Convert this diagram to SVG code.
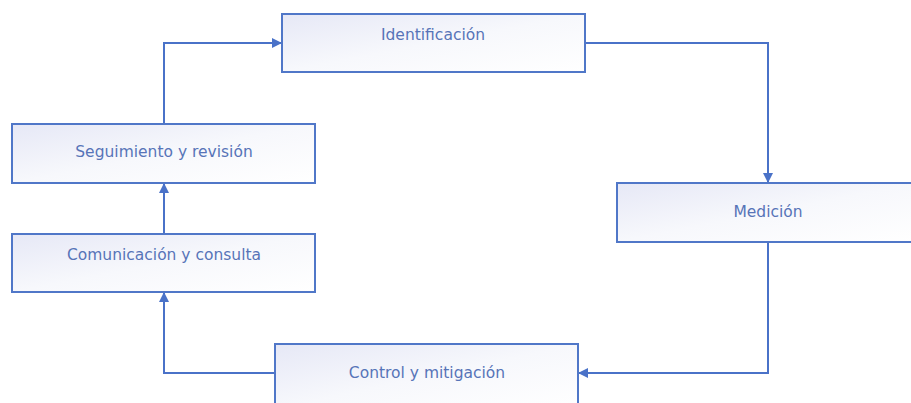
<svg xmlns="http://www.w3.org/2000/svg" width="911" height="403" viewBox="0 0 911 403">
<defs>
<linearGradient id="g" x1="0" y1="0" x2="1" y2="1">
<stop offset="0" stop-color="#e6e8f6"/>
<stop offset="0.5" stop-color="#f7f8fc"/>
<stop offset="1" stop-color="#ffffff"/>
</linearGradient>
<marker id="a" viewBox="0 0 10 10" refX="10" refY="5" markerWidth="10" markerHeight="10" markerUnits="userSpaceOnUse" orient="auto">
<path d="M0,0 L10,5 L0,10 z" fill="#4a72c8"/>
</marker>
<style>
.box{fill:url(#g);stroke:#5077c8;stroke-width:2}
.lbl{font-family:"DejaVu Sans",sans-serif;font-size:15.5px;fill:#5774b8;text-anchor:middle;dominant-baseline:central}
.c{fill:none;stroke:#4a72c8;stroke-width:2;marker-end:url(#a)}
</style>
</defs>
<rect width="911" height="403" fill="#ffffff"/>
<g id="connectors">
<path class="c" d="M164,124 V43 H282"/>
<path class="c" d="M585,43 H768 V183"/>
<path class="c" d="M768,242 V373 H578"/>
<path class="c" d="M275,373 H164 V292"/>
<path class="c" d="M164,234 V183"/>
</g>
<g id="identificacion"><rect class="box" x="282" y="14" width="303" height="58"/><text class="lbl" x="433" y="35">Identificación</text></g>
<g id="seguimiento"><rect class="box" x="12" y="124" width="303" height="59"/><text class="lbl" x="164" y="152">Seguimiento y revisión</text></g>
<g id="comunicacion"><rect class="box" x="12" y="234" width="303" height="58"/><text class="lbl" x="164" y="255">Comunicación y consulta</text></g>
<g id="medicion"><rect class="box" x="617" y="183" width="300" height="59"/><text class="lbl" x="768" y="212">Medición</text></g>
<g id="control"><rect class="box" x="275" y="344" width="303" height="65"/><text class="lbl" x="427" y="373">Control y mitigación</text></g>
</svg>
